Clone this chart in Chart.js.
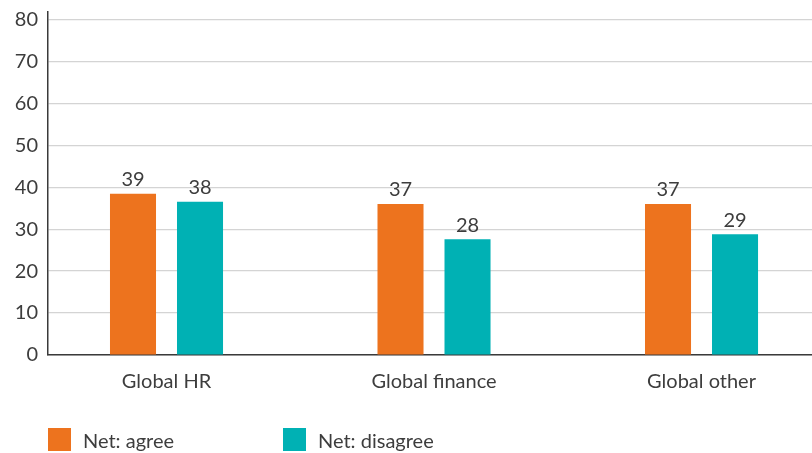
<!DOCTYPE html>
<html>
<head>
<meta charset="utf-8">
<script src="https://cdn.jsdelivr.net/npm/chart.js@4"></script>
<style>
  html, body { margin: 0; padding: 0; background: #fff; overflow: hidden; }
  #wrap { position: relative; width: 812px; height: 453px; }
  #legend { position: absolute; left: 0; top: 0; width: 812px; height: 453px; pointer-events: none; }
  .lg-item { position: absolute; top: 428px; height: 23px; display: flex; align-items: center; font-family: Lato, "Open Sans", sans-serif; font-size: 20px; color: #3d3d3d; }
  .lg-box { width: 23px; height: 23px; margin-right: 12px; }
</style>
</head>
<body>
<div id="wrap">
  <canvas id="c" width="812" height="453"></canvas>
  <div id="legend"></div>
</div>
<script>
const categories = ["Global HR", "Global finance", "Global other"];
const seriesNames = ["Net: agree", "Net: disagree"];
const seriesColors = ["#ED731E", "#00B1B4"];
// bar heights as drawn in the picture
const agreeValues = [38.4, 36.0, 36.0];
const disagreeValues = [36.5, 27.6, 28.8];
// value labels printed above the bars
const agreeLabels = ["39", "37", "37"];
const disagreeLabels = ["38", "28", "29"];
const yTicks = [0, 10, 20, 30, 40, 50, 60, 70, 80];

const FONT = 'Lato, "Open Sans", sans-serif';
const TEXT = '#3d3d3d';

const valueLabelPlugin = {
  id: 'valueLabels',
  afterDatasetsDraw(chart) {
    const ctx = chart.ctx;
    ctx.save();
    ctx.font = '20px ' + FONT;
    ctx.fillStyle = TEXT;
    ctx.textAlign = 'center';
    ctx.textBaseline = 'middle';
    chart.data.datasets.forEach((ds, di) => {
      const meta = chart.getDatasetMeta(di);
      meta.data.forEach((bar, i) => {
        ctx.fillText(ds.valueLabels[i], bar.x, bar.y - 14);
      });
    });
    ctx.restore();
  }
};

const chart = new Chart(document.getElementById('c'), {
  type: 'bar',
  data: {
    datasets: [
      {
        label: seriesNames[0],
        data: agreeValues.map((v, i) => ({ x: i, y: v })),
        backgroundColor: seriesColors[0],
        valueLabels: agreeLabels
      },
      {
        label: seriesNames[1],
        data: disagreeValues.map((v, i) => ({ x: i, y: v })),
        backgroundColor: seriesColors[1],
        valueLabels: disagreeLabels
      }
    ]
  },
  options: {
    responsive: false,
    animation: false,
    events: [],
    categoryPercentage: 0.501,
    barPercentage: 0.687,
    layout: { padding: { top: 12, right: 0, bottom: 59, left: 0 } },
    plugins: {
      legend: { display: false },
      tooltip: { enabled: false }
    },
    scales: {
      x: {
        type: 'linear',
        offset: false,
        min: -0.443,
        max: 2.413,
        afterBuildTicks: (s) => { s.ticks = categories.map((c, i) => ({ value: i })); },
        afterFit: (s) => { s.height = 39; s.paddingLeft = 0; s.paddingRight = 0; },
        ticks: {
          callback: (v) => categories[v] ?? '',
          font: { family: FONT, size: 20 },
          color: TEXT,
          padding: 15,
          maxRotation: 0,
          autoSkip: false
        },
        grid: { display: false, drawTicks: false, offset: false },
        border: { display: true, color: '#3a3a3a', width: 1.5 }
      },
      y: {
        min: 0,
        max: 81.74,
        afterBuildTicks: (s) => { s.ticks = yTicks.map(v => ({ value: v })); },
        afterFit: (s) => { s.width = 48; s.paddingTop = 0; s.paddingBottom = 0; },
        ticks: {
          font: { family: FONT, size: 20 },
          color: TEXT,
          padding: 10
        },
        grid: { color: '#d4d4d4', lineWidth: 1.2, drawTicks: false },
        border: { display: true, color: '#3a3a3a', width: 1.5 }
      }
    }
  },
  plugins: [valueLabelPlugin]
});

// HTML legend built from series arrays
const legend = document.getElementById('legend');
const legendX = [48, 283];
seriesNames.forEach((name, i) => {
  const item = document.createElement('div');
  item.className = 'lg-item';
  item.style.left = legendX[i] + 'px';
  const box = document.createElement('div');
  box.className = 'lg-box';
  box.style.background = seriesColors[i];
  const txt = document.createElement('span');
  txt.textContent = name;
  item.appendChild(box);
  item.appendChild(txt);
  legend.appendChild(item);
});
</script>
</body>
</html>
